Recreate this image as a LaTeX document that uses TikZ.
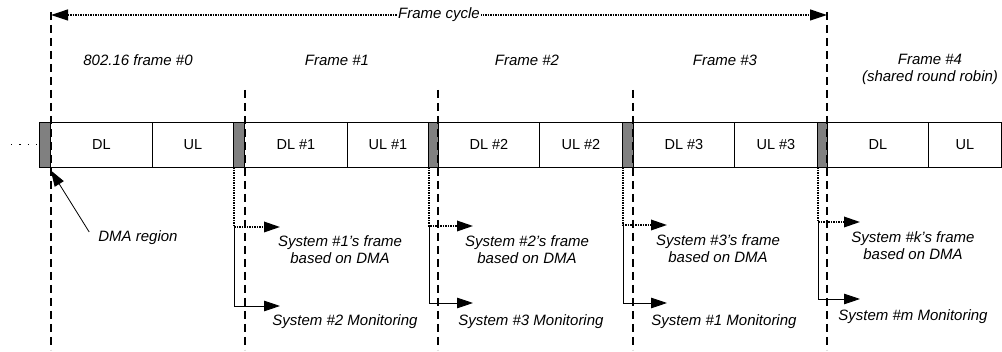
\documentclass[tikz,border=0pt]{standalone}
\usepackage{fontspec}
\setmainfont{Liberation Sans}
\usetikzlibrary{arrows.meta}

\begin{document}
\begin{tikzpicture}
[x=1pt,y=-1pt,
  slotDecorate/.style={shape=rectangle,draw,line width=0.8pt,inner sep=0pt,
    minimum height=45pt,anchor=west,font=\fontsize{14.5}{17}\selectfont},%
  dmaDecorate/.style={slotDecorate,fill=black!50},%
  labelDecorate/.style={font=\fontsize{15}{17}\selectfont\itshape,align=center,inner sep=1pt},%
  boundDecorate/.style={line width=1.8pt,dash pattern=on 8pt off 5pt},%
  cycleDecorate/.style={line width=1.2pt,dash pattern=on 1.5pt off 1pt,
    {Triangle[length=17pt,width=11pt]}-{Triangle[length=17pt,width=11pt]}},%
  dmaLine/.style={line width=1.8pt,dash pattern=on 1.5pt off 1pt},%
  monLine/.style={line width=0.8pt},%
  tipDecorate/.style={-{Triangle[length=16pt,width=10.5pt]}},%
  leadDots/.style={line width=1.2pt,dash pattern=on 1.2pt off 7.2pt}]
\useasboundingbox (0,0) rectangle (1002,352);
%% DMA regions
\foreach \nodename/\x/\w in {
  g0/39/11, g1/233/11, g2/428/10, g3/622/11, g4/817/10}
{
  \node (\nodename) at (\x,144.5) [dmaDecorate,minimum width=\w pt] {};
}
%% DL and UL slots
\foreach \nodename/\x/\w/\txt in {
  d0/50/102/DL, u0/152/81/UL,
  d1/244/103/{DL \#1}, u1/347/81/{UL \#1},
  d2/438/101/{DL \#2}, u2/539/83/{UL \#2},
  d3/633/101/{DL \#3}, u3/734/83/{UL \#3},
  d4/827/101/DL, u4/928/73/UL}
{
  \node (\nodename) at (\x,144.5) [slotDecorate,minimum width=\w pt] {\txt};
}
\coordinate (dots) at (11,144.5);
\draw[leadDots] (dots) -- (g0.west);
%% frame boundaries
\foreach \x/\ytop in {51/12, 245/90, 438/90, 633/90, 827/12}
{
  \draw[boundDecorate] (\x,\ytop) -- (\x,350);
}
%% frame cycle
\coordinate (cycL) at (51,15);
\coordinate (cycR) at (827,15);
\draw[cycleDecorate] (cycL) -- node[labelDecorate,fill=white] {Frame cycle} (cycR);
%% frame titles
\foreach \nodename/\x/\y/\txt in {
  t0/138/60/{802.16 frame \#0}, t1/337/60/{Frame \#1}, t2/527/60/{Frame \#2},
  t3/725/60/{Frame \#3}, t4/930/69/{Frame \#4\\(shared round robin)}}
{
  \node (\nodename) at (\x,\y) [labelDecorate] {\txt};
}
%% DMA region label
\node (dma) at (138,238) [labelDecorate] {DMA region};
\draw[monLine,tipDecorate] ([shift={(-8pt,6pt)}]dma.west) -- ([yshift=-3pt]g0.south east);
%% system frames and monitoring
\foreach \i/\blk/\ex/\dy/\my/\fx/\fy/\mx/\mty/\sysname/\monname in {
  1/g1/280/227/306/340/250/345/322/{\#1's}/{\#2},
  2/g2/473/226/303/527/250/531/322/{\#2's}/{\#3},
  3/g3/667/225/303/718/249/724/322/{\#3's}/{\#1},
  4/g4/860/222/299/913/246/913/317/{\#k's}/{\#m}}
{
  \coordinate (frm\i) at (\ex,\dy);
  \coordinate (mon\i) at (\ex,\my);
  \node (sys\i) at (\fx,\fy) [labelDecorate] {System \sysname\ frame\\based on DMA};
  \node (watch\i) at (\mx,\mty) [labelDecorate] {System \monname\ Monitoring};
  \draw[dmaLine,tipDecorate] ([xshift=1pt]\blk.south west) |- (frm\i);
  \draw[monLine,tipDecorate] ([xshift=1pt]\blk.south west |- frm\i) |- (mon\i);
}
\end{tikzpicture}
\end{document}
